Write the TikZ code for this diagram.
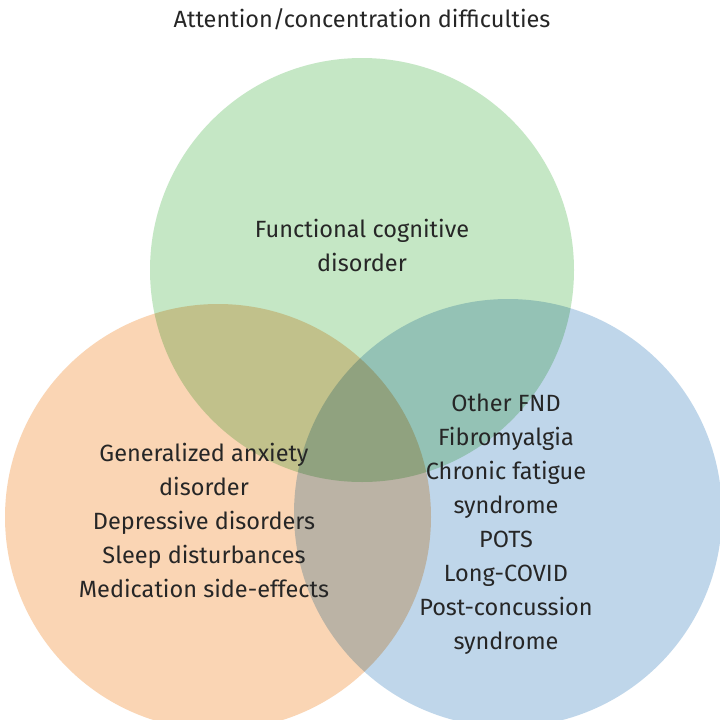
\documentclass[tikz,border=0pt]{standalone}
\usepackage{fontspec}
\setmainfont{Fira Sans}
\begin{document}
\begin{tikzpicture}[x=1pt,y=-1pt,
  circ/.style={draw=none,fill opacity=0.55},
  lbl/.style={align=center,font=\fontsize{23.5}{34}\selectfont,text=black!85}]
\useasboundingbox (0,0) rectangle (720,720);
\fill[white] (0,0) rectangle (720,720);
\begin{scope}[blend mode=multiply]
\fill[circ,fill={rgb,255:red,150;green,212;blue,150}] (362,270) circle (212);
\fill[circ,fill={rgb,255:red,246;green,180;blue,120}] (218,517) circle (213);
\fill[circ,fill={rgb,255:red,140;green,182;blue,218}] (508,513) circle (214);
\end{scope}
\node[lbl] (title) at (362,19) {Attention/concentration difficulties};
\node[lbl] (fcd) at (362,245) {Functional cognitive\\disorder};
\node[lbl] (left) at (204,520) {Generalized anxiety\\disorder\\Depressive disorders\\Sleep disturbances\\Medication side-effects};
\node[lbl] (right) at (506,524) {Other FND\\Fibromyalgia\\Chronic fatigue\\syndrome\\POTS\\Long-COVID\\Post-concussion\\syndrome};
\end{tikzpicture}
\end{document}
